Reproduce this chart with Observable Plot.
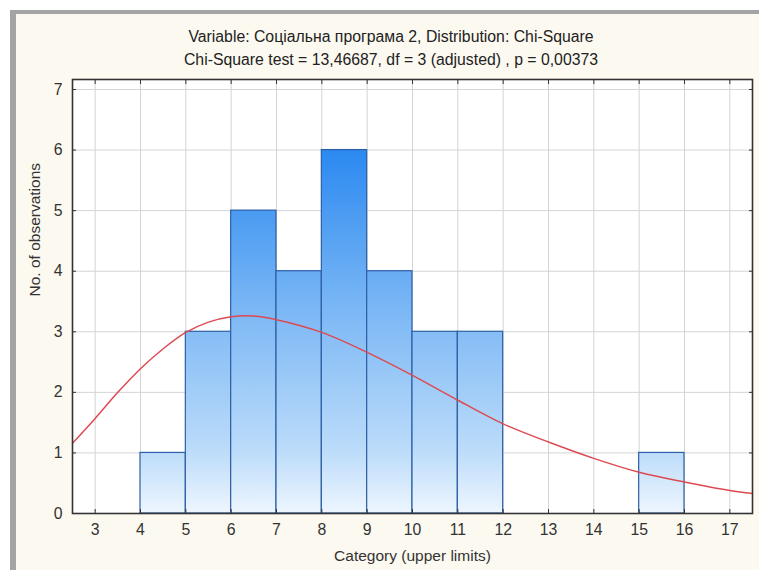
<!DOCTYPE html>
<html>
<head>
<meta charset="utf-8">
<script src="https://cdn.jsdelivr.net/npm/d3@7"></script>
<script src="https://cdn.jsdelivr.net/npm/@observablehq/plot@0.6"></script>
<style>
  html, body { margin: 0; padding: 0; background: #ffffff; }
  #wrap { position: relative; width: 759px; height: 570px; overflow: hidden; background: #ffffff; }
  #panel { position: absolute; left: 10px; top: 10px; width: 760px; height: 570px;
           background: #fcf9f0; border-left: 6px solid #a4a4a4; border-top: 4px solid #a4a4a4; box-sizing: border-box; }
  .title { position: absolute; left: 0; width: 782px; text-align: center;
           font-family: "Liberation Sans", Arial, sans-serif; font-size: 15.8px; color: #222; white-space: nowrap; }
  #chart { position: absolute; left: 0; top: 0; }
</style>
</head>
<body>
<div id="wrap">
  <div id="panel"></div>
  <div class="title" id="t1" style="top:28px"></div>
  <div class="title" id="t2" style="top:51px"></div>
  <div id="chart"></div>
</div>
<script>
// ---- data ----
const titleLine1 = "Variable: Соціальна програма 2, Distribution: Chi-Square";
const titleLine2 = "Chi-Square test = 13,46687, df = 3 (adjusted) , p = 0,00373";
const xLabel = "Category (upper limits)";
const yLabel = "No. of observations";

const binLower = [4, 5, 6, 7, 8, 9, 10, 11, 15];
const binUpper = [5, 6, 7, 8, 9, 10, 11, 12, 16];
const counts   = [1, 3, 5, 4, 6, 4, 3, 3, 1];

const curveX = [2.5, 3, 3.5, 4, 4.5, 5, 5.5, 6, 6.5, 7, 8, 9, 10, 11, 12, 13, 14, 15, 16, 17, 17.5];
const curveY = [1.16, 1.57, 2.0, 2.39, 2.72, 2.99, 3.16, 3.25, 3.26, 3.2, 2.99, 2.66, 2.28, 1.87, 1.48, 1.18, 0.91, 0.68, 0.52, 0.38, 0.33];

const xTicks = [3, 4, 5, 6, 7, 8, 9, 10, 11, 12, 13, 14, 15, 16, 17];
const yTicks = [0, 1, 2, 3, 4, 5, 6, 7];

document.getElementById("t1").textContent = titleLine1;
document.getElementById("t2").textContent = titleLine2;

const bars = binLower.map((lo, i) => ({lo, hi: binUpper[i], n: counts[i]}));
const curve = curveX.map((x, i) => ({x, y: curveY[i]}));

const chart = Plot.plot({
  width: 759,
  height: 570,
  marginLeft: 72,
  marginRight: 7,
  marginTop: 79,
  marginBottom: 57,
  style: {fontFamily: "'Liberation Sans', Arial, sans-serif", fontSize: "15.8px", color: "#333", background: "transparent"},
  x: {domain: [2.5, 17.5]},
  y: {domain: [0, 7.165]},
  marks: [
    Plot.frame({fill: "white", stroke: null}),
    Plot.gridX(xTicks, {stroke: "#d4d4d4", strokeOpacity: 1}),
    Plot.gridY(yTicks.slice(1), {stroke: "#d4d4d4", strokeOpacity: 1}),
    Plot.rect(bars, {x1: "lo", x2: "hi", y1: 0, y2: "n", fill: "url(#barGrad)", stroke: "#2c5fa6", strokeWidth: 1.2}),
    Plot.line(curve, {x: "x", y: "y", curve: "catmull-rom", stroke: "#de4a52", strokeWidth: 1.5}),
    // inner ticks on all four sides
    Plot.axisX(xTicks, {anchor: "bottom", tickSize: -4, tickFormat: () => "", label: null, stroke: "#333"}),
    Plot.axisX(xTicks, {anchor: "top", tickSize: -4, tickFormat: () => "", label: null, stroke: "#333"}),
    Plot.axisY(yTicks, {anchor: "left", tickSize: -4, tickFormat: () => "", label: null, stroke: "#333"}),
    Plot.axisY(yTicks, {anchor: "right", tickSize: -4, tickFormat: () => "", label: null, stroke: "#333"}),
    // labelled axes
    Plot.axisX(xTicks, {anchor: "bottom", tickSize: 0, tickPadding: 10, tickFormat: "d", label: null, fill: "#333"}),
    Plot.axisY(yTicks, {anchor: "left", tickSize: 0, tickPadding: 10, tickFormat: "d", label: null, fill: "#333"}),
    Plot.text([xLabel], {frameAnchor: "bottom", dy: 47, fill: "#333", fontSize: 15.5}),
    Plot.text([yLabel], {frameAnchor: "left", dx: -37, rotate: -90, fill: "#333", fontSize: 15.5}),
    Plot.frame({stroke: "#333", strokeWidth: 1.6})
  ]
});

// vertical gradient for the bars, spanning the plot's y range
const y = chart.scale("y");
const ns = "http://www.w3.org/2000/svg";
const defs = document.createElementNS(ns, "defs");
const grad = document.createElementNS(ns, "linearGradient");
grad.setAttribute("id", "barGrad");
grad.setAttribute("gradientUnits", "userSpaceOnUse");
grad.setAttribute("x1", 0); grad.setAttribute("x2", 0);
grad.setAttribute("y1", y.apply(6)); grad.setAttribute("y2", y.apply(0));
[[0, "#2b89f0"], [0.45, "#7db8f5"], [0.83, "#bcdcfa"], [1, "#eef6ff"]].forEach(([o, c]) => {
  const s = document.createElementNS(ns, "stop");
  s.setAttribute("offset", o); s.setAttribute("stop-color", c);
  grad.appendChild(s);
});
defs.appendChild(grad);
chart.insertBefore(defs, chart.firstChild);

document.getElementById("chart").appendChild(chart);
</script>
</body>
</html>
